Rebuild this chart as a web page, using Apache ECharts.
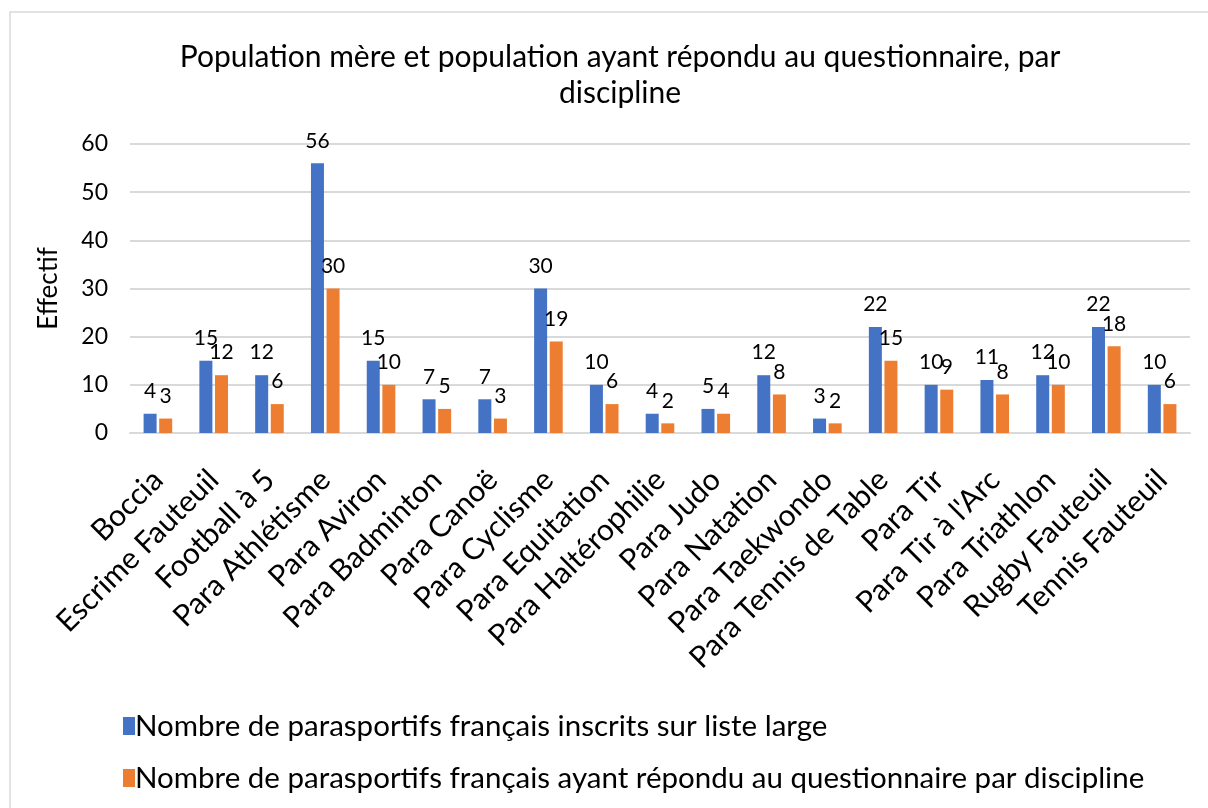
<!DOCTYPE html>
<html>
<head>
<meta charset="utf-8">
<script src="https://cdn.jsdelivr.net/npm/echarts@6/dist/echarts.min.js"></script>
<style>
  html, body { margin: 0; padding: 0; background: #fff; }
  #chart { width: 1208px; height: 808px; }
</style>
</head>
<body>
<div id="chart"></div>
<script>
const categories = [
  'Boccia', 'Escrime Fauteuil', 'Football à 5', 'Para Athlétisme', 'Para Aviron',
  'Para Badminton', 'Para Canoë', 'Para Cyclisme', 'Para Equitation', 'Para Haltérophilie',
  'Para Judo', 'Para Natation', 'Para Taekwondo', 'Para Tennis de Table', 'Para Tir',
  "Para Tir à l'Arc", 'Para Triathlon', 'Rugby Fauteuil', 'Tennis Fauteuil'
]
const inscrits = [4, 15, 12, 56, 15, 7, 7, 30, 10, 4, 5, 12, 3, 22, 10, 11, 12, 22, 10]
const repondu = [3, 12, 6, 30, 10, 5, 3, 19, 6, 2, 4, 8, 2, 15, 9, 8, 10, 18, 6]
const seriesNames = [
  'Nombre de parasportifs français inscrits sur liste large',
  'Nombre de parasportifs français ayant répondu au questionnaire par discipline'
]

const font = 'Lato, "Open Sans", sans-serif'
const chart = echarts.init(document.getElementById('chart'))

const labelStyle = {
  show: true,
  position: 'top',
  fontSize: 21,
  color: '#000',
  fontFamily: font,
  distance: 12
}

chart.setOption({
  animation: false,
  textStyle: { fontFamily: font },
  graphic: [{
    type: 'rect',
    shape: { x: 10, y: 12, width: 1210, height: 810 },
    style: { fill: 'none', stroke: '#d9d9d9', lineWidth: 1.5 }
  }],
  title: {
    text: 'Population mère et population ayant répondu au questionnaire, par\ndiscipline',
    left: 615,
    textAlign: 'center',
    top: 34,
    textStyle: { fontSize: 30, fontWeight: 'normal', color: '#000', lineHeight: 36, fontFamily: font }
  },
  legend: {
    orient: 'vertical',
    left: 118,
    top: 706,
    itemGap: 22,
    itemWidth: 12,
    itemHeight: 18,
    icon: 'rect',
    textStyle: { fontSize: 29.5, color: '#000', fontFamily: font, padding: [0, 0, 0, -5] },
    data: seriesNames
  },
  grid: { left: 130, right: 18, top: 144, bottom: 375, containLabel: false },
  xAxis: {
    type: 'category',
    data: categories,
    axisTick: { show: false },
    axisLine: { lineStyle: { color: '#d9d9d9', width: 2 } },
    axisLabel: { rotate: 45, fontSize: 30, color: '#000', margin: 42, interval: 0, fontFamily: font }
  },
  yAxis: {
    type: 'value',
    min: 0,
    max: 60,
    interval: 10,
    name: 'Effectif',
    nameLocation: 'middle',
    nameGap: 68,
    nameTextStyle: { fontSize: 26, color: '#000', fontFamily: font },
    axisLine: { show: false },
    axisTick: { show: false },
    axisLabel: { fontSize: 23, color: '#000', margin: 22, fontFamily: font },
    splitLine: { lineStyle: { color: '#d9d9d9', width: 2 } }
  },
  series: [
    {
      name: seriesNames[0],
      type: 'bar',
      data: inscrits,
      barWidth: 13,
      barGap: '20%',
      itemStyle: { color: '#4472C4' },
      label: labelStyle
    },
    {
      name: seriesNames[1],
      type: 'bar',
      data: repondu,
      barWidth: 13,
      itemStyle: { color: '#ED7D31' },
      label: labelStyle
    }
  ]
})
</script>
</body>
</html>
